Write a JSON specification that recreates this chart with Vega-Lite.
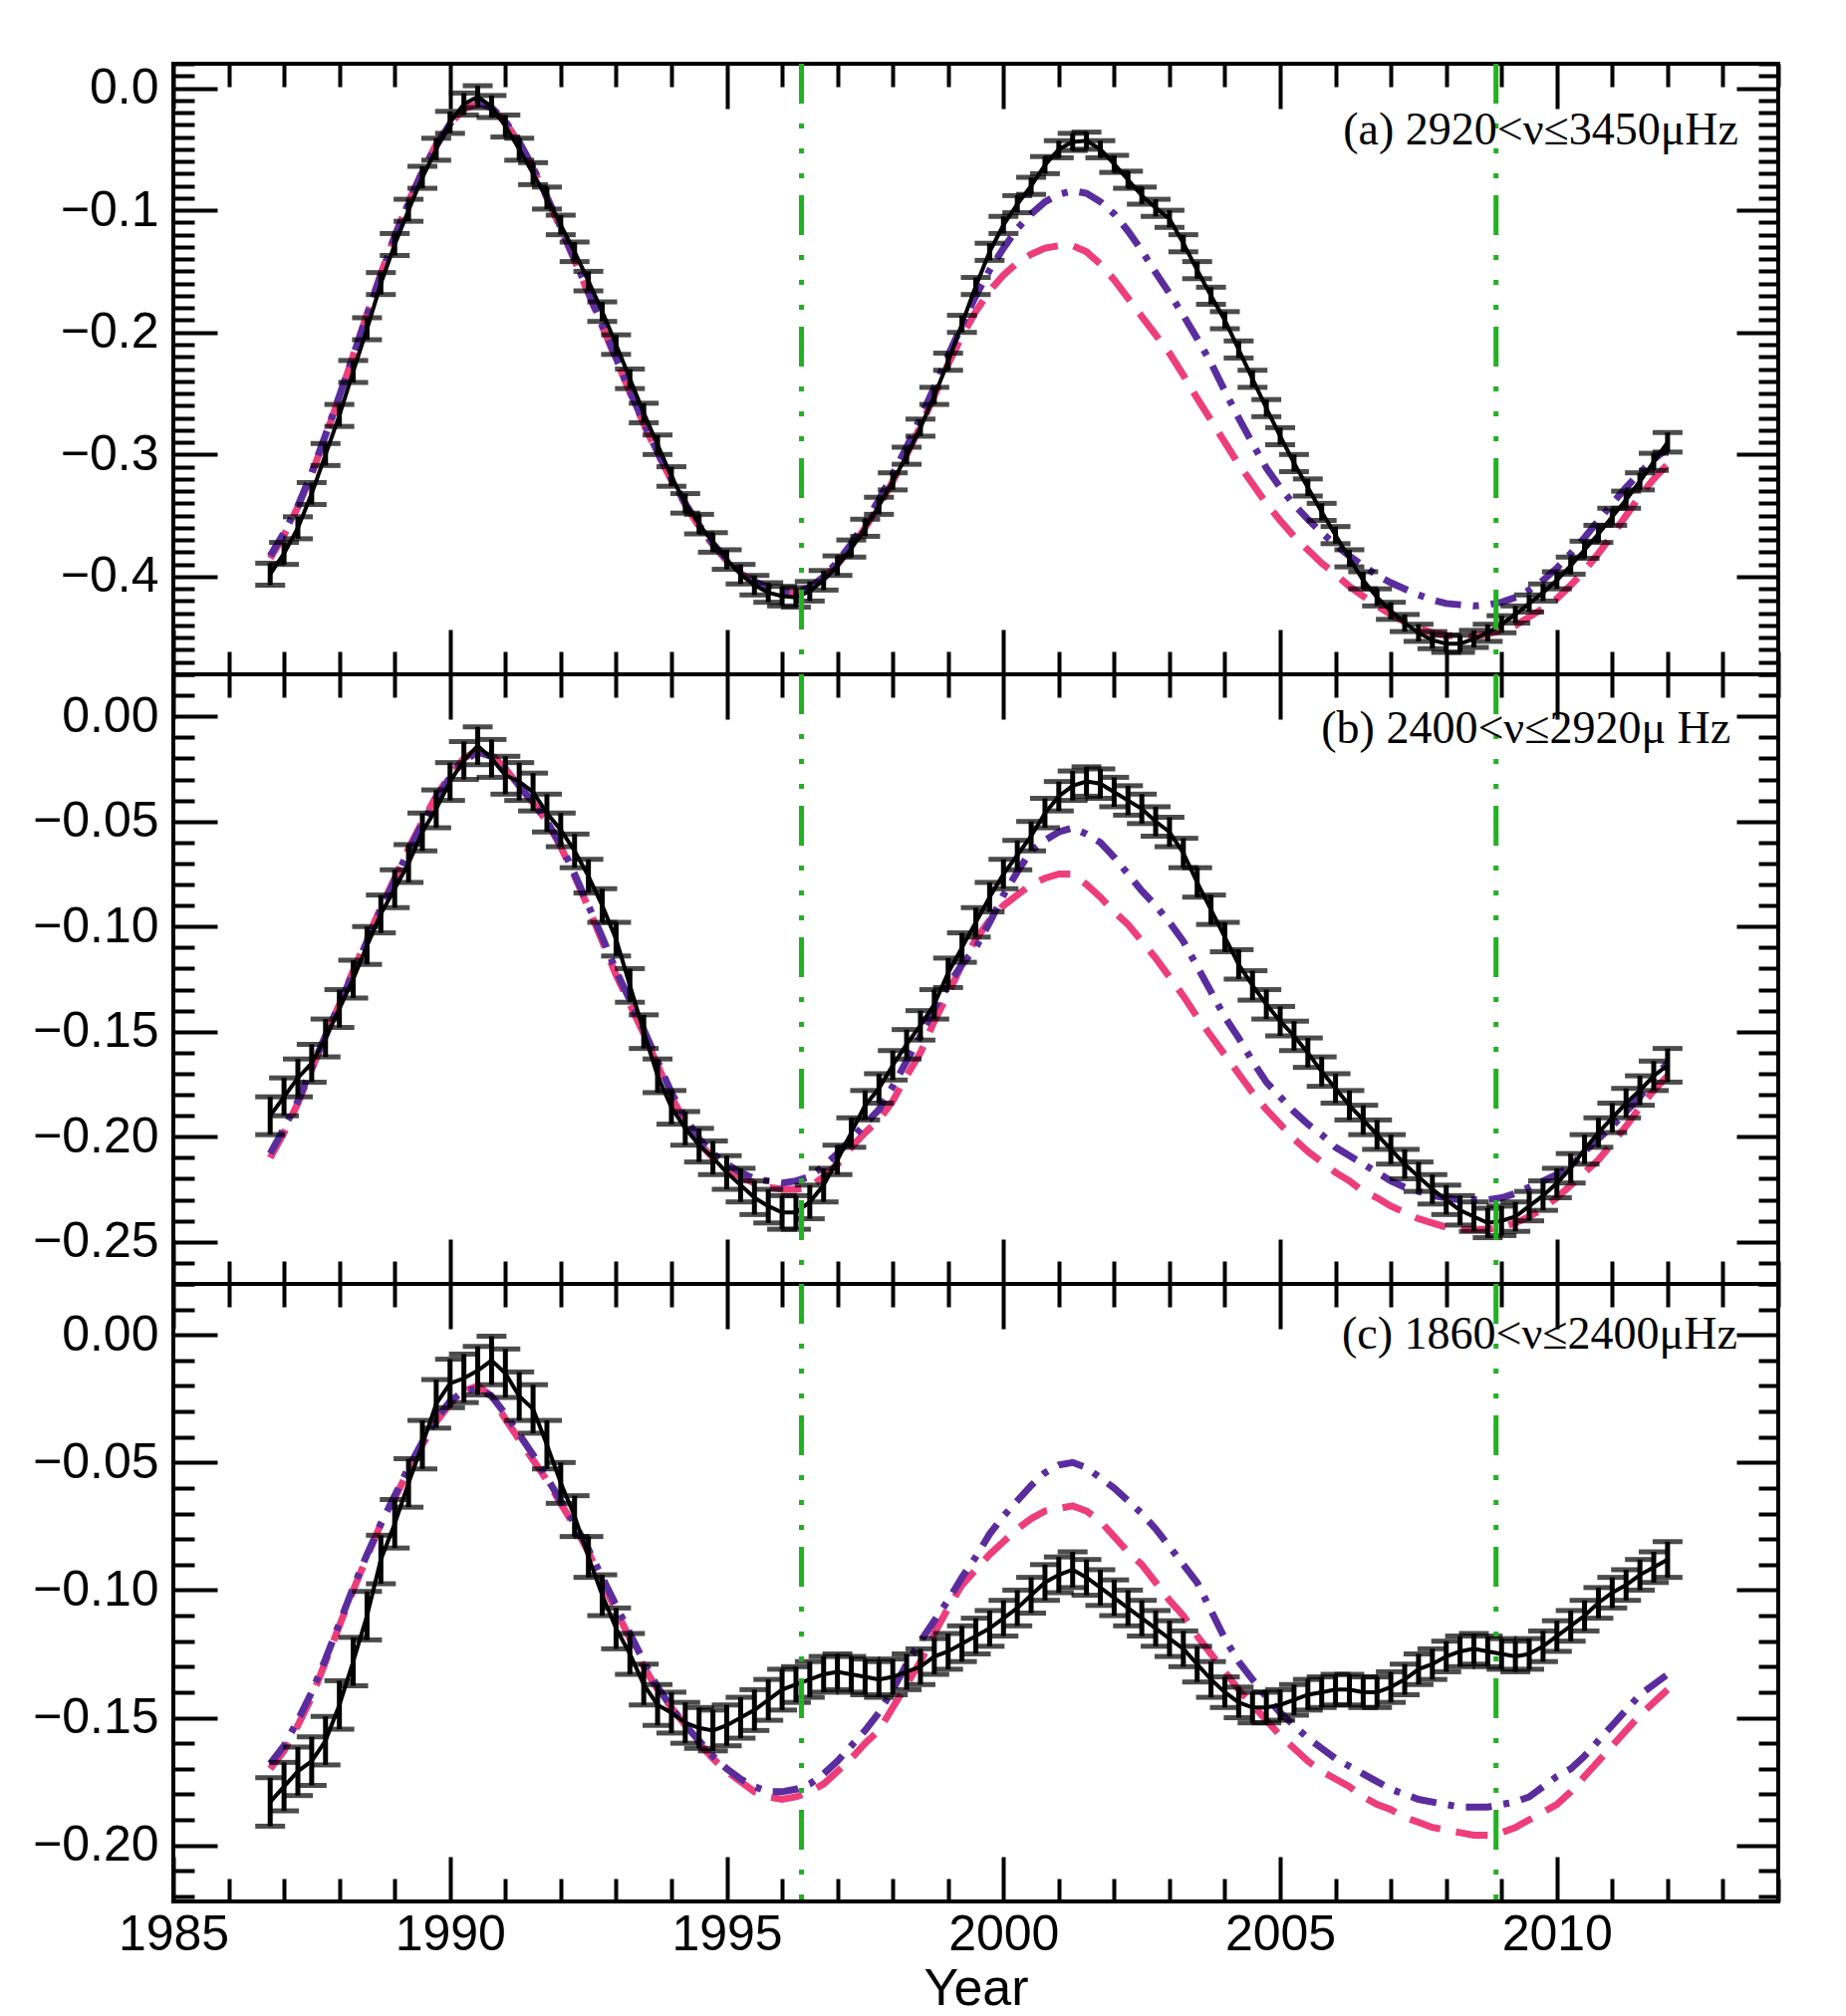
{
  "$schema": "https://vega.github.io/schema/vega-lite/v6.json",
  "background": "white",
  "padding": {"left": 4, "top": 59, "right": 30, "bottom": 0},
  "spacing": 0,
  "bounds": "flush",
  "datasets": {
    "d": [
      {"p":"a","t":1986.75,"v":-0.398,"e":0.009,"m1":-0.385,"m2":-0.383},
      {"p":"a","t":1987,"v":-0.381,"e":0.009,"m1":-0.366,"m2":-0.364},
      {"p":"a","t":1987.25,"v":-0.36,"e":0.009,"m1":-0.343,"m2":-0.342},
      {"p":"a","t":1987.5,"v":-0.332,"e":0.009,"m1":-0.316,"m2":-0.315},
      {"p":"a","t":1987.75,"v":-0.3,"e":0.009,"m1":-0.285,"m2":-0.284},
      {"p":"a","t":1988,"v":-0.268,"e":0.009,"m1":-0.253,"m2":-0.252},
      {"p":"a","t":1988.25,"v":-0.232,"e":0.009,"m1":-0.219,"m2":-0.219},
      {"p":"a","t":1988.5,"v":-0.197,"e":0.009,"m1":-0.185,"m2":-0.186},
      {"p":"a","t":1988.75,"v":-0.16,"e":0.009,"m1":-0.152,"m2":-0.153},
      {"p":"a","t":1989,"v":-0.128,"e":0.009,"m1":-0.121,"m2":-0.122},
      {"p":"a","t":1989.25,"v":-0.1,"e":0.009,"m1":-0.093,"m2":-0.094},
      {"p":"a","t":1989.5,"v":-0.073,"e":0.009,"m1":-0.068,"m2":-0.069},
      {"p":"a","t":1989.75,"v":-0.05,"e":0.009,"m1":-0.046,"m2":-0.047},
      {"p":"a","t":1990,"v":-0.028,"e":0.009,"m1":-0.029,"m2":-0.029},
      {"p":"a","t":1990.25,"v":-0.013,"e":0.009,"m1":-0.017,"m2":-0.017},
      {"p":"a","t":1990.5,"v":-0.007,"e":0.009,"m1":-0.013,"m2":-0.012},
      {"p":"a","t":1990.75,"v":-0.015,"e":0.009,"m1":-0.017,"m2":-0.016},
      {"p":"a","t":1991,"v":-0.031,"e":0.009,"m1":-0.028,"m2":-0.027},
      {"p":"a","t":1991.25,"v":-0.05,"e":0.009,"m1":-0.045,"m2":-0.044},
      {"p":"a","t":1991.5,"v":-0.07,"e":0.009,"m1":-0.066,"m2":-0.065},
      {"p":"a","t":1991.75,"v":-0.09,"e":0.009,"m1":-0.09,"m2":-0.089},
      {"p":"a","t":1992,"v":-0.112,"e":0.008,"m1":-0.115,"m2":-0.114},
      {"p":"a","t":1992.25,"v":-0.134,"e":0.008,"m1":-0.141,"m2":-0.14},
      {"p":"a","t":1992.5,"v":-0.158,"e":0.008,"m1":-0.168,"m2":-0.167},
      {"p":"a","t":1992.75,"v":-0.183,"e":0.008,"m1":-0.195,"m2":-0.194},
      {"p":"a","t":1993,"v":-0.21,"e":0.008,"m1":-0.222,"m2":-0.221},
      {"p":"a","t":1993.25,"v":-0.238,"e":0.008,"m1":-0.249,"m2":-0.248},
      {"p":"a","t":1993.5,"v":-0.266,"e":0.008,"m1":-0.275,"m2":-0.274},
      {"p":"a","t":1993.75,"v":-0.292,"e":0.008,"m1":-0.299,"m2":-0.298},
      {"p":"a","t":1994,"v":-0.318,"e":0.008,"m1":-0.321,"m2":-0.32},
      {"p":"a","t":1994.25,"v":-0.34,"e":0.008,"m1":-0.341,"m2":-0.34},
      {"p":"a","t":1994.5,"v":-0.357,"e":0.008,"m1":-0.359,"m2":-0.358},
      {"p":"a","t":1994.75,"v":-0.372,"e":0.008,"m1":-0.374,"m2":-0.373},
      {"p":"a","t":1995,"v":-0.386,"e":0.008,"m1":-0.387,"m2":-0.386},
      {"p":"a","t":1995.25,"v":-0.398,"e":0.008,"m1":-0.397,"m2":-0.396},
      {"p":"a","t":1995.5,"v":-0.407,"e":0.008,"m1":-0.405,"m2":-0.404},
      {"p":"a","t":1995.75,"v":-0.413,"e":0.008,"m1":-0.41,"m2":-0.409},
      {"p":"a","t":1996,"v":-0.416,"e":0.008,"m1":-0.413,"m2":-0.412},
      {"p":"a","t":1996.25,"v":-0.417,"e":0.008,"m1":-0.414,"m2":-0.412},
      {"p":"a","t":1996.5,"v":-0.412,"e":0.008,"m1":-0.41,"m2":-0.409},
      {"p":"a","t":1996.75,"v":-0.403,"e":0.008,"m1":-0.401,"m2":-0.4},
      {"p":"a","t":1997,"v":-0.391,"e":0.008,"m1":-0.39,"m2":-0.388},
      {"p":"a","t":1997.25,"v":-0.377,"e":0.007,"m1":-0.376,"m2":-0.373},
      {"p":"a","t":1997.5,"v":-0.36,"e":0.007,"m1":-0.36,"m2":-0.356},
      {"p":"a","t":1997.75,"v":-0.342,"e":0.007,"m1":-0.342,"m2":-0.337},
      {"p":"a","t":1998,"v":-0.322,"e":0.007,"m1":-0.322,"m2":-0.316},
      {"p":"a","t":1998.25,"v":-0.301,"e":0.007,"m1":-0.3,"m2":-0.294},
      {"p":"a","t":1998.5,"v":-0.278,"e":0.007,"m1":-0.277,"m2":-0.27},
      {"p":"a","t":1998.75,"v":-0.252,"e":0.007,"m1":-0.252,"m2":-0.245},
      {"p":"a","t":1999,"v":-0.224,"e":0.007,"m1":-0.226,"m2":-0.219},
      {"p":"a","t":1999.25,"v":-0.193,"e":0.007,"m1":-0.203,"m2":-0.194},
      {"p":"a","t":1999.5,"v":-0.162,"e":0.007,"m1":-0.183,"m2":-0.17},
      {"p":"a","t":1999.75,"v":-0.134,"e":0.007,"m1":-0.166,"m2":-0.149},
      {"p":"a","t":2000,"v":-0.112,"e":0.007,"m1":-0.153,"m2":-0.131},
      {"p":"a","t":2000.25,"v":-0.095,"e":0.007,"m1":-0.143,"m2":-0.115},
      {"p":"a","t":2000.5,"v":-0.08,"e":0.007,"m1":-0.136,"m2":-0.103},
      {"p":"a","t":2000.75,"v":-0.063,"e":0.007,"m1":-0.131,"m2":-0.093},
      {"p":"a","t":2001,"v":-0.05,"e":0.007,"m1":-0.129,"m2":-0.087},
      {"p":"a","t":2001.25,"v":-0.044,"e":0.007,"m1":-0.129,"m2":-0.084},
      {"p":"a","t":2001.5,"v":-0.043,"e":0.007,"m1":-0.134,"m2":-0.086},
      {"p":"a","t":2001.75,"v":-0.05,"e":0.007,"m1":-0.144,"m2":-0.093},
      {"p":"a","t":2002,"v":-0.062,"e":0.007,"m1":-0.157,"m2":-0.103},
      {"p":"a","t":2002.25,"v":-0.075,"e":0.007,"m1":-0.172,"m2":-0.117},
      {"p":"a","t":2002.5,"v":-0.088,"e":0.007,"m1":-0.187,"m2":-0.133},
      {"p":"a","t":2002.75,"v":-0.098,"e":0.007,"m1":-0.202,"m2":-0.151},
      {"p":"a","t":2003,"v":-0.107,"e":0.007,"m1":-0.217,"m2":-0.168},
      {"p":"a","t":2003.25,"v":-0.127,"e":0.007,"m1":-0.235,"m2":-0.186},
      {"p":"a","t":2003.5,"v":-0.149,"e":0.007,"m1":-0.254,"m2":-0.205},
      {"p":"a","t":2003.75,"v":-0.17,"e":0.007,"m1":-0.272,"m2":-0.225},
      {"p":"a","t":2004,"v":-0.19,"e":0.007,"m1":-0.29,"m2":-0.248},
      {"p":"a","t":2004.25,"v":-0.214,"e":0.007,"m1":-0.308,"m2":-0.27},
      {"p":"a","t":2004.5,"v":-0.238,"e":0.007,"m1":-0.324,"m2":-0.291},
      {"p":"a","t":2004.75,"v":-0.262,"e":0.007,"m1":-0.34,"m2":-0.311},
      {"p":"a","t":2005,"v":-0.285,"e":0.007,"m1":-0.354,"m2":-0.327},
      {"p":"a","t":2005.25,"v":-0.307,"e":0.007,"m1":-0.367,"m2":-0.341},
      {"p":"a","t":2005.5,"v":-0.327,"e":0.007,"m1":-0.378,"m2":-0.353},
      {"p":"a","t":2005.75,"v":-0.347,"e":0.007,"m1":-0.389,"m2":-0.364},
      {"p":"a","t":2006,"v":-0.366,"e":0.007,"m1":-0.398,"m2":-0.374},
      {"p":"a","t":2006.25,"v":-0.385,"e":0.007,"m1":-0.408,"m2":-0.383},
      {"p":"a","t":2006.5,"v":-0.403,"e":0.007,"m1":-0.416,"m2":-0.391},
      {"p":"a","t":2006.75,"v":-0.417,"e":0.007,"m1":-0.424,"m2":-0.399},
      {"p":"a","t":2007,"v":-0.428,"e":0.007,"m1":-0.431,"m2":-0.405},
      {"p":"a","t":2007.25,"v":-0.438,"e":0.007,"m1":-0.437,"m2":-0.41},
      {"p":"a","t":2007.5,"v":-0.446,"e":0.007,"m1":-0.442,"m2":-0.415},
      {"p":"a","t":2007.75,"v":-0.452,"e":0.007,"m1":-0.446,"m2":-0.419},
      {"p":"a","t":2008,"v":-0.455,"e":0.007,"m1":-0.448,"m2":-0.422},
      {"p":"a","t":2008.25,"v":-0.455,"e":0.007,"m1":-0.449,"m2":-0.423},
      {"p":"a","t":2008.5,"v":-0.451,"e":0.007,"m1":-0.449,"m2":-0.424},
      {"p":"a","t":2008.75,"v":-0.446,"e":0.007,"m1":-0.447,"m2":-0.423},
      {"p":"a","t":2009,"v":-0.439,"e":0.007,"m1":-0.444,"m2":-0.421},
      {"p":"a","t":2009.25,"v":-0.431,"e":0.007,"m1":-0.44,"m2":-0.417},
      {"p":"a","t":2009.5,"v":-0.422,"e":0.007,"m1":-0.433,"m2":-0.411},
      {"p":"a","t":2009.75,"v":-0.413,"e":0.007,"m1":-0.426,"m2":-0.403},
      {"p":"a","t":2010,"v":-0.403,"e":0.007,"m1":-0.418,"m2":-0.393},
      {"p":"a","t":2010.25,"v":-0.391,"e":0.007,"m1":-0.407,"m2":-0.381},
      {"p":"a","t":2010.5,"v":-0.378,"e":0.007,"m1":-0.395,"m2":-0.368},
      {"p":"a","t":2010.75,"v":-0.365,"e":0.007,"m1":-0.381,"m2":-0.354},
      {"p":"a","t":2011,"v":-0.351,"e":0.007,"m1":-0.366,"m2":-0.34},
      {"p":"a","t":2011.25,"v":-0.337,"e":0.007,"m1":-0.35,"m2":-0.327},
      {"p":"a","t":2011.5,"v":-0.322,"e":0.007,"m1":-0.334,"m2":-0.315},
      {"p":"a","t":2011.75,"v":-0.306,"e":0.007,"m1":-0.32,"m2":-0.304},
      {"p":"a","t":2012,"v":-0.29,"e":0.008,"m1":-0.308,"m2":-0.295},

      {"p":"b","t":1986.75,"v":-0.19,"e":0.009,"m1":-0.21,"m2":-0.208},
      {"p":"b","t":1987,"v":-0.181,"e":0.009,"m1":-0.198,"m2":-0.196},
      {"p":"b","t":1987.25,"v":-0.172,"e":0.009,"m1":-0.184,"m2":-0.183},
      {"p":"b","t":1987.5,"v":-0.165,"e":0.009,"m1":-0.168,"m2":-0.167},
      {"p":"b","t":1987.75,"v":-0.153,"e":0.009,"m1":-0.152,"m2":-0.152},
      {"p":"b","t":1988,"v":-0.139,"e":0.009,"m1":-0.137,"m2":-0.137},
      {"p":"b","t":1988.25,"v":-0.125,"e":0.009,"m1":-0.121,"m2":-0.122},
      {"p":"b","t":1988.5,"v":-0.109,"e":0.009,"m1":-0.106,"m2":-0.107},
      {"p":"b","t":1988.75,"v":-0.094,"e":0.009,"m1":-0.091,"m2":-0.092},
      {"p":"b","t":1989,"v":-0.082,"e":0.009,"m1":-0.077,"m2":-0.078},
      {"p":"b","t":1989.25,"v":-0.07,"e":0.009,"m1":-0.063,"m2":-0.064},
      {"p":"b","t":1989.5,"v":-0.055,"e":0.009,"m1":-0.05,"m2":-0.051},
      {"p":"b","t":1989.75,"v":-0.044,"e":0.009,"m1":-0.038,"m2":-0.039},
      {"p":"b","t":1990,"v":-0.031,"e":0.009,"m1":-0.028,"m2":-0.029},
      {"p":"b","t":1990.25,"v":-0.021,"e":0.009,"m1":-0.02,"m2":-0.021},
      {"p":"b","t":1990.5,"v":-0.014,"e":0.009,"m1":-0.016,"m2":-0.017},
      {"p":"b","t":1990.75,"v":-0.02,"e":0.009,"m1":-0.018,"m2":-0.019},
      {"p":"b","t":1991,"v":-0.028,"e":0.009,"m1":-0.025,"m2":-0.025},
      {"p":"b","t":1991.25,"v":-0.031,"e":0.009,"m1":-0.033,"m2":-0.033},
      {"p":"b","t":1991.5,"v":-0.036,"e":0.009,"m1":-0.041,"m2":-0.041},
      {"p":"b","t":1991.75,"v":-0.046,"e":0.009,"m1":-0.05,"m2":-0.05},
      {"p":"b","t":1992,"v":-0.054,"e":0.008,"m1":-0.062,"m2":-0.061},
      {"p":"b","t":1992.25,"v":-0.064,"e":0.008,"m1":-0.076,"m2":-0.075},
      {"p":"b","t":1992.5,"v":-0.076,"e":0.008,"m1":-0.091,"m2":-0.09},
      {"p":"b","t":1992.75,"v":-0.09,"e":0.008,"m1":-0.107,"m2":-0.105},
      {"p":"b","t":1993,"v":-0.106,"e":0.008,"m1":-0.123,"m2":-0.121},
      {"p":"b","t":1993.25,"v":-0.128,"e":0.008,"m1":-0.137,"m2":-0.135},
      {"p":"b","t":1993.5,"v":-0.15,"e":0.008,"m1":-0.151,"m2":-0.149},
      {"p":"b","t":1993.75,"v":-0.171,"e":0.008,"m1":-0.166,"m2":-0.164},
      {"p":"b","t":1994,"v":-0.186,"e":0.008,"m1":-0.181,"m2":-0.179},
      {"p":"b","t":1994.25,"v":-0.196,"e":0.008,"m1":-0.193,"m2":-0.191},
      {"p":"b","t":1994.5,"v":-0.204,"e":0.008,"m1":-0.203,"m2":-0.201},
      {"p":"b","t":1994.75,"v":-0.21,"e":0.008,"m1":-0.21,"m2":-0.208},
      {"p":"b","t":1995,"v":-0.217,"e":0.008,"m1":-0.215,"m2":-0.213},
      {"p":"b","t":1995.25,"v":-0.223,"e":0.008,"m1":-0.219,"m2":-0.217},
      {"p":"b","t":1995.5,"v":-0.229,"e":0.008,"m1":-0.222,"m2":-0.22},
      {"p":"b","t":1995.75,"v":-0.233,"e":0.008,"m1":-0.224,"m2":-0.221},
      {"p":"b","t":1996,"v":-0.236,"e":0.008,"m1":-0.225,"m2":-0.222},
      {"p":"b","t":1996.25,"v":-0.236,"e":0.008,"m1":-0.225,"m2":-0.221},
      {"p":"b","t":1996.5,"v":-0.231,"e":0.008,"m1":-0.224,"m2":-0.219},
      {"p":"b","t":1996.75,"v":-0.223,"e":0.008,"m1":-0.219,"m2":-0.214},
      {"p":"b","t":1997,"v":-0.211,"e":0.007,"m1":-0.213,"m2":-0.208},
      {"p":"b","t":1997.25,"v":-0.198,"e":0.007,"m1":-0.205,"m2":-0.201},
      {"p":"b","t":1997.5,"v":-0.185,"e":0.007,"m1":-0.198,"m2":-0.194},
      {"p":"b","t":1997.75,"v":-0.177,"e":0.007,"m1":-0.192,"m2":-0.187},
      {"p":"b","t":1998,"v":-0.166,"e":0.007,"m1":-0.183,"m2":-0.176},
      {"p":"b","t":1998.25,"v":-0.156,"e":0.007,"m1":-0.171,"m2":-0.164},
      {"p":"b","t":1998.5,"v":-0.147,"e":0.007,"m1":-0.16,"m2":-0.152},
      {"p":"b","t":1998.75,"v":-0.137,"e":0.007,"m1":-0.145,"m2":-0.139},
      {"p":"b","t":1999,"v":-0.122,"e":0.007,"m1":-0.132,"m2":-0.128},
      {"p":"b","t":1999.25,"v":-0.11,"e":0.007,"m1":-0.118,"m2":-0.118},
      {"p":"b","t":1999.5,"v":-0.098,"e":0.007,"m1":-0.106,"m2":-0.11},
      {"p":"b","t":1999.75,"v":-0.086,"e":0.007,"m1":-0.097,"m2":-0.098},
      {"p":"b","t":2000,"v":-0.075,"e":0.007,"m1":-0.09,"m2":-0.085},
      {"p":"b","t":2000.25,"v":-0.066,"e":0.007,"m1":-0.085,"m2":-0.074},
      {"p":"b","t":2000.5,"v":-0.057,"e":0.007,"m1":-0.08,"m2":-0.064},
      {"p":"b","t":2000.75,"v":-0.046,"e":0.007,"m1":-0.077,"m2":-0.059},
      {"p":"b","t":2001,"v":-0.038,"e":0.007,"m1":-0.075,"m2":-0.055},
      {"p":"b","t":2001.25,"v":-0.033,"e":0.007,"m1":-0.075,"m2":-0.053},
      {"p":"b","t":2001.5,"v":-0.031,"e":0.007,"m1":-0.08,"m2":-0.056},
      {"p":"b","t":2001.75,"v":-0.032,"e":0.007,"m1":-0.086,"m2":-0.06},
      {"p":"b","t":2002,"v":-0.036,"e":0.007,"m1":-0.093,"m2":-0.067},
      {"p":"b","t":2002.25,"v":-0.04,"e":0.007,"m1":-0.099,"m2":-0.075},
      {"p":"b","t":2002.5,"v":-0.044,"e":0.007,"m1":-0.107,"m2":-0.083},
      {"p":"b","t":2002.75,"v":-0.05,"e":0.007,"m1":-0.115,"m2":-0.09},
      {"p":"b","t":2003,"v":-0.055,"e":0.007,"m1":-0.124,"m2":-0.098},
      {"p":"b","t":2003.25,"v":-0.065,"e":0.007,"m1":-0.133,"m2":-0.107},
      {"p":"b","t":2003.5,"v":-0.079,"e":0.007,"m1":-0.143,"m2":-0.119},
      {"p":"b","t":2003.75,"v":-0.092,"e":0.007,"m1":-0.152,"m2":-0.131},
      {"p":"b","t":2004,"v":-0.105,"e":0.007,"m1":-0.161,"m2":-0.143},
      {"p":"b","t":2004.25,"v":-0.118,"e":0.007,"m1":-0.17,"m2":-0.153},
      {"p":"b","t":2004.5,"v":-0.128,"e":0.007,"m1":-0.179,"m2":-0.164},
      {"p":"b","t":2004.75,"v":-0.137,"e":0.007,"m1":-0.187,"m2":-0.174},
      {"p":"b","t":2005,"v":-0.145,"e":0.007,"m1":-0.194,"m2":-0.181},
      {"p":"b","t":2005.25,"v":-0.152,"e":0.007,"m1":-0.201,"m2":-0.188},
      {"p":"b","t":2005.5,"v":-0.16,"e":0.007,"m1":-0.207,"m2":-0.194},
      {"p":"b","t":2005.75,"v":-0.169,"e":0.007,"m1":-0.212,"m2":-0.199},
      {"p":"b","t":2006,"v":-0.177,"e":0.007,"m1":-0.217,"m2":-0.205},
      {"p":"b","t":2006.25,"v":-0.185,"e":0.007,"m1":-0.221,"m2":-0.209},
      {"p":"b","t":2006.5,"v":-0.192,"e":0.007,"m1":-0.226,"m2":-0.213},
      {"p":"b","t":2006.75,"v":-0.199,"e":0.007,"m1":-0.229,"m2":-0.217},
      {"p":"b","t":2007,"v":-0.206,"e":0.007,"m1":-0.233,"m2":-0.221},
      {"p":"b","t":2007.25,"v":-0.213,"e":0.007,"m1":-0.236,"m2":-0.224},
      {"p":"b","t":2007.5,"v":-0.219,"e":0.007,"m1":-0.239,"m2":-0.226},
      {"p":"b","t":2007.75,"v":-0.225,"e":0.007,"m1":-0.241,"m2":-0.228},
      {"p":"b","t":2008,"v":-0.23,"e":0.007,"m1":-0.243,"m2":-0.229},
      {"p":"b","t":2008.25,"v":-0.235,"e":0.007,"m1":-0.244,"m2":-0.23},
      {"p":"b","t":2008.5,"v":-0.238,"e":0.007,"m1":-0.244,"m2":-0.23},
      {"p":"b","t":2008.75,"v":-0.241,"e":0.007,"m1":-0.244,"m2":-0.23},
      {"p":"b","t":2009,"v":-0.24,"e":0.007,"m1":-0.243,"m2":-0.229},
      {"p":"b","t":2009.25,"v":-0.238,"e":0.007,"m1":-0.241,"m2":-0.227},
      {"p":"b","t":2009.5,"v":-0.233,"e":0.007,"m1":-0.238,"m2":-0.224},
      {"p":"b","t":2009.75,"v":-0.228,"e":0.007,"m1":-0.234,"m2":-0.221},
      {"p":"b","t":2010,"v":-0.222,"e":0.007,"m1":-0.229,"m2":-0.218},
      {"p":"b","t":2010.25,"v":-0.215,"e":0.007,"m1":-0.223,"m2":-0.214},
      {"p":"b","t":2010.5,"v":-0.206,"e":0.007,"m1":-0.217,"m2":-0.207},
      {"p":"b","t":2010.75,"v":-0.198,"e":0.007,"m1":-0.211,"m2":-0.201},
      {"p":"b","t":2011,"v":-0.191,"e":0.007,"m1":-0.203,"m2":-0.195},
      {"p":"b","t":2011.25,"v":-0.184,"e":0.007,"m1":-0.195,"m2":-0.188},
      {"p":"b","t":2011.5,"v":-0.178,"e":0.007,"m1":-0.186,"m2":-0.181},
      {"p":"b","t":2011.75,"v":-0.171,"e":0.007,"m1":-0.178,"m2":-0.172},
      {"p":"b","t":2012,"v":-0.166,"e":0.008,"m1":-0.171,"m2":-0.165},

      {"p":"c","t":1986.75,"v":-0.183,"e":0.0095,"m1":-0.17,"m2":-0.168},
      {"p":"c","t":1987,"v":-0.177,"e":0.0095,"m1":-0.163,"m2":-0.161},
      {"p":"c","t":1987.25,"v":-0.171,"e":0.0095,"m1":-0.153,"m2":-0.151},
      {"p":"c","t":1987.5,"v":-0.167,"e":0.0095,"m1":-0.142,"m2":-0.14},
      {"p":"c","t":1987.75,"v":-0.159,"e":0.0095,"m1":-0.128,"m2":-0.127},
      {"p":"c","t":1988,"v":-0.145,"e":0.0095,"m1":-0.114,"m2":-0.113},
      {"p":"c","t":1988.25,"v":-0.128,"e":0.0095,"m1":-0.1,"m2":-0.099},
      {"p":"c","t":1988.5,"v":-0.11,"e":0.0095,"m1":-0.087,"m2":-0.086},
      {"p":"c","t":1988.75,"v":-0.088,"e":0.0095,"m1":-0.074,"m2":-0.074},
      {"p":"c","t":1989,"v":-0.074,"e":0.0095,"m1":-0.064,"m2":-0.063},
      {"p":"c","t":1989.25,"v":-0.058,"e":0.0095,"m1":-0.053,"m2":-0.052},
      {"p":"c","t":1989.5,"v":-0.043,"e":0.0095,"m1":-0.043,"m2":-0.042},
      {"p":"c","t":1989.75,"v":-0.027,"e":0.0095,"m1":-0.034,"m2":-0.033},
      {"p":"c","t":1990,"v":-0.019,"e":0.0095,"m1":-0.027,"m2":-0.026},
      {"p":"c","t":1990.25,"v":-0.017,"e":0.0095,"m1":-0.022,"m2":-0.022},
      {"p":"c","t":1990.5,"v":-0.014,"e":0.0095,"m1":-0.02,"m2":-0.021},
      {"p":"c","t":1990.75,"v":-0.01,"e":0.0095,"m1":-0.024,"m2":-0.024},
      {"p":"c","t":1991,"v":-0.015,"e":0.0095,"m1":-0.033,"m2":-0.031},
      {"p":"c","t":1991.25,"v":-0.024,"e":0.0095,"m1":-0.041,"m2":-0.039},
      {"p":"c","t":1991.5,"v":-0.029,"e":0.0095,"m1":-0.049,"m2":-0.047},
      {"p":"c","t":1991.75,"v":-0.043,"e":0.0095,"m1":-0.057,"m2":-0.056},
      {"p":"c","t":1992,"v":-0.058,"e":0.008,"m1":-0.066,"m2":-0.065},
      {"p":"c","t":1992.25,"v":-0.071,"e":0.008,"m1":-0.075,"m2":-0.074},
      {"p":"c","t":1992.5,"v":-0.087,"e":0.008,"m1":-0.085,"m2":-0.084},
      {"p":"c","t":1992.75,"v":-0.102,"e":0.008,"m1":-0.097,"m2":-0.095},
      {"p":"c","t":1993,"v":-0.115,"e":0.008,"m1":-0.108,"m2":-0.106},
      {"p":"c","t":1993.25,"v":-0.125,"e":0.008,"m1":-0.119,"m2":-0.117},
      {"p":"c","t":1993.5,"v":-0.137,"e":0.008,"m1":-0.13,"m2":-0.128},
      {"p":"c","t":1993.75,"v":-0.145,"e":0.008,"m1":-0.139,"m2":-0.138},
      {"p":"c","t":1994,"v":-0.148,"e":0.008,"m1":-0.146,"m2":-0.146},
      {"p":"c","t":1994.25,"v":-0.152,"e":0.008,"m1":-0.153,"m2":-0.153},
      {"p":"c","t":1994.5,"v":-0.154,"e":0.008,"m1":-0.16,"m2":-0.159},
      {"p":"c","t":1994.75,"v":-0.155,"e":0.008,"m1":-0.166,"m2":-0.165},
      {"p":"c","t":1995,"v":-0.153,"e":0.008,"m1":-0.171,"m2":-0.17},
      {"p":"c","t":1995.25,"v":-0.15,"e":0.008,"m1":-0.175,"m2":-0.174},
      {"p":"c","t":1995.5,"v":-0.147,"e":0.008,"m1":-0.179,"m2":-0.177},
      {"p":"c","t":1995.75,"v":-0.143,"e":0.008,"m1":-0.181,"m2":-0.179},
      {"p":"c","t":1996,"v":-0.139,"e":0.008,"m1":-0.182,"m2":-0.179},
      {"p":"c","t":1996.25,"v":-0.137,"e":0.007,"m1":-0.181,"m2":-0.178},
      {"p":"c","t":1996.5,"v":-0.135,"e":0.007,"m1":-0.179,"m2":-0.176},
      {"p":"c","t":1996.75,"v":-0.133,"e":0.007,"m1":-0.176,"m2":-0.172},
      {"p":"c","t":1997,"v":-0.132,"e":0.007,"m1":-0.171,"m2":-0.167},
      {"p":"c","t":1997.25,"v":-0.133,"e":0.007,"m1":-0.166,"m2":-0.161},
      {"p":"c","t":1997.5,"v":-0.134,"e":0.007,"m1":-0.16,"m2":-0.155},
      {"p":"c","t":1997.75,"v":-0.135,"e":0.007,"m1":-0.155,"m2":-0.148},
      {"p":"c","t":1998,"v":-0.134,"e":0.007,"m1":-0.146,"m2":-0.139},
      {"p":"c","t":1998.25,"v":-0.132,"e":0.007,"m1":-0.137,"m2":-0.129},
      {"p":"c","t":1998.5,"v":-0.13,"e":0.007,"m1":-0.128,"m2":-0.12},
      {"p":"c","t":1998.75,"v":-0.126,"e":0.007,"m1":-0.117,"m2":-0.112},
      {"p":"c","t":1999,"v":-0.124,"e":0.007,"m1":-0.107,"m2":-0.104},
      {"p":"c","t":1999.25,"v":-0.121,"e":0.007,"m1":-0.098,"m2":-0.095},
      {"p":"c","t":1999.5,"v":-0.118,"e":0.007,"m1":-0.092,"m2":-0.087},
      {"p":"c","t":1999.75,"v":-0.115,"e":0.007,"m1":-0.086,"m2":-0.078},
      {"p":"c","t":2000,"v":-0.111,"e":0.007,"m1":-0.081,"m2":-0.071},
      {"p":"c","t":2000.25,"v":-0.107,"e":0.007,"m1":-0.076,"m2":-0.065},
      {"p":"c","t":2000.5,"v":-0.102,"e":0.007,"m1":-0.072,"m2":-0.059},
      {"p":"c","t":2000.75,"v":-0.097,"e":0.007,"m1":-0.069,"m2":-0.054},
      {"p":"c","t":2001,"v":-0.094,"e":0.007,"m1":-0.068,"m2":-0.051},
      {"p":"c","t":2001.25,"v":-0.092,"e":0.007,"m1":-0.067,"m2":-0.05},
      {"p":"c","t":2001.5,"v":-0.095,"e":0.007,"m1":-0.069,"m2":-0.052},
      {"p":"c","t":2001.75,"v":-0.099,"e":0.007,"m1":-0.073,"m2":-0.056},
      {"p":"c","t":2002,"v":-0.103,"e":0.007,"m1":-0.079,"m2":-0.06},
      {"p":"c","t":2002.25,"v":-0.107,"e":0.007,"m1":-0.085,"m2":-0.065},
      {"p":"c","t":2002.5,"v":-0.111,"e":0.007,"m1":-0.09,"m2":-0.07},
      {"p":"c","t":2002.75,"v":-0.115,"e":0.007,"m1":-0.097,"m2":-0.076},
      {"p":"c","t":2003,"v":-0.119,"e":0.007,"m1":-0.104,"m2":-0.083},
      {"p":"c","t":2003.25,"v":-0.123,"e":0.007,"m1":-0.11,"m2":-0.09},
      {"p":"c","t":2003.5,"v":-0.129,"e":0.007,"m1":-0.118,"m2":-0.097},
      {"p":"c","t":2003.75,"v":-0.135,"e":0.007,"m1":-0.125,"m2":-0.108},
      {"p":"c","t":2004,"v":-0.14,"e":0.006,"m1":-0.132,"m2":-0.119},
      {"p":"c","t":2004.25,"v":-0.144,"e":0.006,"m1":-0.139,"m2":-0.128},
      {"p":"c","t":2004.5,"v":-0.146,"e":0.006,"m1":-0.145,"m2":-0.135},
      {"p":"c","t":2004.75,"v":-0.146,"e":0.006,"m1":-0.151,"m2":-0.142},
      {"p":"c","t":2005,"v":-0.145,"e":0.006,"m1":-0.157,"m2":-0.148},
      {"p":"c","t":2005.25,"v":-0.143,"e":0.006,"m1":-0.162,"m2":-0.153},
      {"p":"c","t":2005.5,"v":-0.141,"e":0.006,"m1":-0.167,"m2":-0.158},
      {"p":"c","t":2005.75,"v":-0.14,"e":0.006,"m1":-0.171,"m2":-0.162},
      {"p":"c","t":2006,"v":-0.139,"e":0.006,"m1":-0.174,"m2":-0.166},
      {"p":"c","t":2006.25,"v":-0.139,"e":0.006,"m1":-0.177,"m2":-0.169},
      {"p":"c","t":2006.5,"v":-0.14,"e":0.006,"m1":-0.181,"m2":-0.172},
      {"p":"c","t":2006.75,"v":-0.14,"e":0.006,"m1":-0.184,"m2":-0.175},
      {"p":"c","t":2007,"v":-0.138,"e":0.006,"m1":-0.186,"m2":-0.178},
      {"p":"c","t":2007.25,"v":-0.135,"e":0.006,"m1":-0.189,"m2":-0.18},
      {"p":"c","t":2007.5,"v":-0.131,"e":0.006,"m1":-0.191,"m2":-0.182},
      {"p":"c","t":2007.75,"v":-0.129,"e":0.006,"m1":-0.193,"m2":-0.183},
      {"p":"c","t":2008,"v":-0.126,"e":0.006,"m1":-0.194,"m2":-0.184},
      {"p":"c","t":2008.25,"v":-0.124,"e":0.006,"m1":-0.195,"m2":-0.185},
      {"p":"c","t":2008.5,"v":-0.123,"e":0.006,"m1":-0.196,"m2":-0.185},
      {"p":"c","t":2008.75,"v":-0.124,"e":0.006,"m1":-0.196,"m2":-0.185},
      {"p":"c","t":2009,"v":-0.125,"e":0.006,"m1":-0.195,"m2":-0.184},
      {"p":"c","t":2009.25,"v":-0.126,"e":0.006,"m1":-0.193,"m2":-0.183},
      {"p":"c","t":2009.5,"v":-0.125,"e":0.006,"m1":-0.19,"m2":-0.181},
      {"p":"c","t":2009.75,"v":-0.122,"e":0.006,"m1":-0.187,"m2":-0.177},
      {"p":"c","t":2010,"v":-0.118,"e":0.006,"m1":-0.184,"m2":-0.173},
      {"p":"c","t":2010.25,"v":-0.114,"e":0.006,"m1":-0.179,"m2":-0.17},
      {"p":"c","t":2010.5,"v":-0.11,"e":0.006,"m1":-0.173,"m2":-0.165},
      {"p":"c","t":2010.75,"v":-0.105,"e":0.006,"m1":-0.167,"m2":-0.159},
      {"p":"c","t":2011,"v":-0.101,"e":0.006,"m1":-0.161,"m2":-0.153},
      {"p":"c","t":2011.25,"v":-0.098,"e":0.006,"m1":-0.155,"m2":-0.147},
      {"p":"c","t":2011.5,"v":-0.094,"e":0.006,"m1":-0.149,"m2":-0.141},
      {"p":"c","t":2011.75,"v":-0.091,"e":0.006,"m1":-0.144,"m2":-0.137},
      {"p":"c","t":2012,"v":-0.088,"e":0.007,"m1":-0.139,"m2":-0.133}
    ]
  },
  "vconcat": [
    {
      "width": 1611,
      "height": 613,
      "data": {"name": "d"},
      "layer": [
        {
          "transform": [{"filter": "datum.p === 'a'"}],
          "mark": {"type": "line", "color": "#ee3d7b", "strokeWidth": 7, "strokeDash": [32, 16]},
          "encoding": {
            "x": {"field": "t", "type": "quantitative", "scale": {"domain": [1985, 2014], "nice": false, "zero": false},
              "axis": {"orient": "top", "values": [1985,1986,1987,1988,1989,1990,1991,1992,1993,1994,1995,1996,1997,1998,1999,2000,2001,2002,2003,2004,2005,2006,2007,2008,2009,2010,2011,2012,2013,2014], "labels": false, "domain": false, "grid": false, "title": null, "tickColor": "black", "tickWidth": 4, "tickSize": {"condition": {"test": "datum.value % 5 === 0", "value": -45}, "value": -23}}},
            "y": {"field": "m1", "type": "quantitative", "scale": {"domain": [-0.48, 0.02], "nice": false, "zero": false},
              "axis": {"orient": "right", "values": [-0.48,-0.47,-0.46,-0.45,-0.44,-0.43,-0.42,-0.41,-0.4,-0.39,-0.38,-0.37,-0.36,-0.35,-0.34,-0.33,-0.32,-0.31,-0.3,-0.29,-0.28,-0.27,-0.26,-0.25,-0.24,-0.23,-0.22,-0.21,-0.2,-0.19,-0.18,-0.17,-0.16,-0.15,-0.14,-0.13,-0.12,-0.11,-0.1,-0.09,-0.08,-0.07,-0.06,-0.05,-0.04,-0.03,-0.02,-0.01,0,0.01,0.02], "labels": false, "domain": false, "grid": false, "title": null, "tickColor": "black", "tickWidth": 4, "tickSize": {"condition": {"test": "abs(round(datum.value*100)) % 10 === 0", "value": -42}, "value": -20}}}
          }
        },
        {
          "transform": [{"filter": "datum.p === 'a'"}],
          "mark": {"type": "line", "color": "#5a2d9e", "strokeWidth": 7, "strokeDash": [26, 12, 6, 12]},
          "encoding": {
            "x": {"field": "t", "type": "quantitative", "scale": {"domain": [1985, 2014], "nice": false, "zero": false}, "axis": null},
            "y": {"field": "m2", "type": "quantitative", "scale": {"domain": [-0.48, 0.02], "nice": false, "zero": false}, "axis": null}
          }
        },
        {
          "transform": [{"filter": "datum.p === 'a'"}],
          "mark": {"type": "errorbar", "color": "black", "ticks": {"size": 30, "thickness": 5}, "rule": {"strokeWidth": 5}},
          "encoding": {
            "x": {"field": "t", "type": "quantitative", "scale": {"domain": [1985, 2014], "nice": false, "zero": false},
              "axis": {"orient": "bottom", "values": [1985,1986,1987,1988,1989,1990,1991,1992,1993,1994,1995,1996,1997,1998,1999,2000,2001,2002,2003,2004,2005,2006,2007,2008,2009,2010,2011,2012,2013,2014], "labels": false, "domain": false, "grid": false, "title": null, "tickColor": "black", "tickWidth": 4, "tickSize": {"condition": {"test": "datum.value % 5 === 0", "value": -45}, "value": -23}}},
            "y": {"field": "v", "type": "quantitative", "scale": {"domain": [-0.48, 0.02], "nice": false, "zero": false},
              "axis": {"orient": "left", "values": [-0.48,-0.47,-0.46,-0.45,-0.44,-0.43,-0.42,-0.41,-0.4,-0.39,-0.38,-0.37,-0.36,-0.35,-0.34,-0.33,-0.32,-0.31,-0.3,-0.29,-0.28,-0.27,-0.26,-0.25,-0.24,-0.23,-0.22,-0.21,-0.2,-0.19,-0.18,-0.17,-0.16,-0.15,-0.14,-0.13,-0.12,-0.11,-0.1,-0.09,-0.08,-0.07,-0.06,-0.05,-0.04,-0.03,-0.02,-0.01,0,0.01,0.02], "labels": false, "domain": false, "grid": false, "title": null, "tickColor": "black", "tickWidth": 4, "tickSize": {"condition": {"test": "abs(round(datum.value*100)) % 10 === 0", "value": -44}, "value": -21}}},
            "yError": {"field": "e"}
          }
        },
        {
          "transform": [{"filter": "datum.p === 'a'"}],
          "mark": {"type": "line", "color": "black", "strokeWidth": 4},
          "encoding": {
            "x": {"field": "t", "type": "quantitative", "scale": {"domain": [1985, 2014], "nice": false, "zero": false}, "axis": null},
            "y": {"field": "v", "type": "quantitative", "scale": {"domain": [-0.48, 0.02], "nice": false, "zero": false},
              "axis": {"orient": "left", "values": [0, -0.1, -0.2, -0.3, -0.4], "format": ".1f", "labelExpr": "datum.value === 0 ? datum.label + '\u2005' : datum.label", "ticks": false, "tickSize": 0, "domain": false, "grid": false, "title": null, "labelPadding": 15, "minExtent": 168, "maxExtent": 168}}
          }
        },
        {
          "data": {"values": [{"g": 1996.35}, {"g": 2008.9}]},
          "mark": {"type": "rule", "color": "#1fb41f", "strokeWidth": 5, "strokeDash": [40, 20, 5, 20, 5, 20, 5, 17]},
          "encoding": {
            "x": {"field": "g", "type": "quantitative", "scale": {"domain": [1985, 2014], "nice": false, "zero": false}, "axis": null}
          }
        },
        {
          "data": {"values": [{"tx": 2013.28, "ty": -0.035, "label": "(a) 2920<ν≤3450μHz"}]},
          "mark": {"type": "text", "align": "right", "baseline": "middle", "font": "Liberation Serif", "fontSize": 46, "color": "black"},
          "encoding": {
            "x": {"field": "tx", "type": "quantitative", "scale": {"domain": [1985, 2014], "nice": false, "zero": false}, "axis": null},
            "y": {"field": "ty", "type": "quantitative", "scale": {"domain": [-0.48, 0.02], "nice": false, "zero": false}, "axis": null},
            "text": {"field": "label"}
          }
        }
      ],
      "resolve": {"axis": {"x": "independent", "y": "independent"}}
    },
    {
      "width": 1611,
      "height": 612,
      "data": {"name": "d"},
      "layer": [
        {
          "transform": [{"filter": "datum.p === 'b'"}],
          "mark": {"type": "line", "color": "#ee3d7b", "strokeWidth": 7, "strokeDash": [32, 16]},
          "encoding": {
            "x": {"field": "t", "type": "quantitative", "scale": {"domain": [1985, 2014], "nice": false, "zero": false},
              "axis": {"orient": "top", "values": [1985,1986,1987,1988,1989,1990,1991,1992,1993,1994,1995,1996,1997,1998,1999,2000,2001,2002,2003,2004,2005,2006,2007,2008,2009,2010,2011,2012,2013,2014], "labels": false, "domain": false, "grid": false, "title": null, "tickColor": "black", "tickWidth": 4, "tickSize": {"condition": {"test": "datum.value % 5 === 0", "value": -45}, "value": -23}}},
            "y": {"field": "m1", "type": "quantitative", "scale": {"domain": [-0.27, 0.02], "nice": false, "zero": false},
              "axis": {"orient": "right", "values": [-0.27,-0.26,-0.25,-0.24,-0.23,-0.22,-0.21,-0.2,-0.19,-0.18,-0.17,-0.16,-0.15,-0.14,-0.13,-0.12,-0.11,-0.1,-0.09,-0.08,-0.07,-0.06,-0.05,-0.04,-0.03,-0.02,-0.01,0,0.01,0.02], "labels": false, "domain": false, "grid": false, "title": null, "tickColor": "black", "tickWidth": 4, "tickSize": {"condition": {"test": "abs(round(datum.value*100)) % 5 === 0", "value": -42}, "value": -20}}}
          }
        },
        {
          "transform": [{"filter": "datum.p === 'b'"}],
          "mark": {"type": "line", "color": "#5a2d9e", "strokeWidth": 7, "strokeDash": [26, 12, 6, 12]},
          "encoding": {
            "x": {"field": "t", "type": "quantitative", "scale": {"domain": [1985, 2014], "nice": false, "zero": false}, "axis": null},
            "y": {"field": "m2", "type": "quantitative", "scale": {"domain": [-0.27, 0.02], "nice": false, "zero": false}, "axis": null}
          }
        },
        {
          "transform": [{"filter": "datum.p === 'b'"}],
          "mark": {"type": "errorbar", "color": "black", "ticks": {"size": 30, "thickness": 5}, "rule": {"strokeWidth": 5}},
          "encoding": {
            "x": {"field": "t", "type": "quantitative", "scale": {"domain": [1985, 2014], "nice": false, "zero": false},
              "axis": {"orient": "bottom", "values": [1985,1986,1987,1988,1989,1990,1991,1992,1993,1994,1995,1996,1997,1998,1999,2000,2001,2002,2003,2004,2005,2006,2007,2008,2009,2010,2011,2012,2013,2014], "labels": false, "domain": false, "grid": false, "title": null, "tickColor": "black", "tickWidth": 4, "tickSize": {"condition": {"test": "datum.value % 5 === 0", "value": -45}, "value": -23}}},
            "y": {"field": "v", "type": "quantitative", "scale": {"domain": [-0.27, 0.02], "nice": false, "zero": false},
              "axis": {"orient": "left", "values": [-0.27,-0.26,-0.25,-0.24,-0.23,-0.22,-0.21,-0.2,-0.19,-0.18,-0.17,-0.16,-0.15,-0.14,-0.13,-0.12,-0.11,-0.1,-0.09,-0.08,-0.07,-0.06,-0.05,-0.04,-0.03,-0.02,-0.01,0,0.01,0.02], "labels": false, "domain": false, "grid": false, "title": null, "tickColor": "black", "tickWidth": 4, "tickSize": {"condition": {"test": "abs(round(datum.value*100)) % 5 === 0", "value": -44}, "value": -21}}},
            "yError": {"field": "e"}
          }
        },
        {
          "transform": [{"filter": "datum.p === 'b'"}],
          "mark": {"type": "line", "color": "black", "strokeWidth": 4},
          "encoding": {
            "x": {"field": "t", "type": "quantitative", "scale": {"domain": [1985, 2014], "nice": false, "zero": false}, "axis": null},
            "y": {"field": "v", "type": "quantitative", "scale": {"domain": [-0.27, 0.02], "nice": false, "zero": false},
              "axis": {"orient": "left", "values": [0, -0.05, -0.1, -0.15, -0.2, -0.25], "format": ".2f", "labelExpr": "datum.value === 0 ? datum.label + '\u2005' : datum.label", "ticks": false, "tickSize": 0, "domain": false, "grid": false, "title": null, "labelPadding": 15, "minExtent": 168, "maxExtent": 168}}
          }
        },
        {
          "data": {"values": [{"g": 1996.35}, {"g": 2008.9}]},
          "mark": {"type": "rule", "color": "#1fb41f", "strokeWidth": 5, "strokeDash": [40, 20, 5, 20, 5, 20, 5, 17]},
          "encoding": {
            "x": {"field": "g", "type": "quantitative", "scale": {"domain": [1985, 2014], "nice": false, "zero": false}, "axis": null}
          }
        },
        {
          "data": {"values": [{"tx": 2013.14, "ty": -0.006, "label": "(b) 2400<ν≤2920μ Hz"}]},
          "mark": {"type": "text", "align": "right", "baseline": "middle", "font": "Liberation Serif", "fontSize": 46, "color": "black"},
          "encoding": {
            "x": {"field": "tx", "type": "quantitative", "scale": {"domain": [1985, 2014], "nice": false, "zero": false}, "axis": null},
            "y": {"field": "ty", "type": "quantitative", "scale": {"domain": [-0.27, 0.02], "nice": false, "zero": false}, "axis": null},
            "text": {"field": "label"}
          }
        }
      ],
      "resolve": {"axis": {"x": "independent", "y": "independent"}}
    },
    {
      "width": 1611,
      "height": 620,
      "data": {"name": "d"},
      "layer": [
        {
          "transform": [{"filter": "datum.p === 'c'"}],
          "mark": {"type": "line", "color": "#ee3d7b", "strokeWidth": 7, "strokeDash": [32, 16]},
          "encoding": {
            "x": {"field": "t", "type": "quantitative", "scale": {"domain": [1985, 2014], "nice": false, "zero": false},
              "axis": {"orient": "top", "values": [1985,1986,1987,1988,1989,1990,1991,1992,1993,1994,1995,1996,1997,1998,1999,2000,2001,2002,2003,2004,2005,2006,2007,2008,2009,2010,2011,2012,2013,2014], "labels": false, "domain": false, "grid": false, "title": null, "tickColor": "black", "tickWidth": 4, "tickSize": {"condition": {"test": "datum.value % 5 === 0", "value": -45}, "value": -23}}},
            "y": {"field": "m1", "type": "quantitative", "scale": {"domain": [-0.222, 0.02], "nice": false, "zero": false},
              "axis": {"orient": "right", "values": [-0.22,-0.21,-0.2,-0.19,-0.18,-0.17,-0.16,-0.15,-0.14,-0.13,-0.12,-0.11,-0.1,-0.09,-0.08,-0.07,-0.06,-0.05,-0.04,-0.03,-0.02,-0.01,0,0.01,0.02], "labels": false, "domain": false, "grid": false, "title": null, "tickColor": "black", "tickWidth": 4, "tickSize": {"condition": {"test": "abs(round(datum.value*100)) % 5 === 0", "value": -42}, "value": -20}}}
          }
        },
        {
          "transform": [{"filter": "datum.p === 'c'"}],
          "mark": {"type": "line", "color": "#5a2d9e", "strokeWidth": 7, "strokeDash": [26, 12, 6, 12]},
          "encoding": {
            "x": {"field": "t", "type": "quantitative", "scale": {"domain": [1985, 2014], "nice": false, "zero": false}, "axis": null},
            "y": {"field": "m2", "type": "quantitative", "scale": {"domain": [-0.222, 0.02], "nice": false, "zero": false}, "axis": null}
          }
        },
        {
          "transform": [{"filter": "datum.p === 'c'"}],
          "mark": {"type": "errorbar", "color": "black", "ticks": {"size": 30, "thickness": 5}, "rule": {"strokeWidth": 5}},
          "encoding": {
            "x": {"field": "t", "type": "quantitative", "scale": {"domain": [1985, 2014], "nice": false, "zero": false},
              "axis": {"orient": "bottom", "values": [1985,1986,1987,1988,1989,1990,1991,1992,1993,1994,1995,1996,1997,1998,1999,2000,2001,2002,2003,2004,2005,2006,2007,2008,2009,2010,2011,2012,2013,2014], "labels": false, "domain": false, "grid": false, "title": null, "tickColor": "black", "tickWidth": 4, "tickSize": {"condition": {"test": "datum.value % 5 === 0", "value": -45}, "value": -23}}},
            "y": {"field": "v", "type": "quantitative", "scale": {"domain": [-0.222, 0.02], "nice": false, "zero": false},
              "axis": {"orient": "left", "values": [-0.22,-0.21,-0.2,-0.19,-0.18,-0.17,-0.16,-0.15,-0.14,-0.13,-0.12,-0.11,-0.1,-0.09,-0.08,-0.07,-0.06,-0.05,-0.04,-0.03,-0.02,-0.01,0,0.01,0.02], "labels": false, "domain": false, "grid": false, "title": null, "tickColor": "black", "tickWidth": 4, "tickSize": {"condition": {"test": "abs(round(datum.value*100)) % 5 === 0", "value": -44}, "value": -21}}},
            "yError": {"field": "e"}
          }
        },
        {
          "transform": [{"filter": "datum.p === 'c'"}],
          "mark": {"type": "line", "color": "black", "strokeWidth": 4},
          "encoding": {
            "x": {"field": "t", "type": "quantitative", "scale": {"domain": [1985, 2014], "nice": false, "zero": false},
              "axis": {"orient": "bottom", "values": [1985, 1990, 1995, 2000, 2005, 2010], "format": "d", "ticks": false, "tickSize": 0, "domain": false, "grid": false, "labelFlush": false, "labelOverlap": false, "labelPadding": 8, "title": "Year", "titleFontSize": 52, "titlePadding": 4}},
            "y": {"field": "v", "type": "quantitative", "scale": {"domain": [-0.222, 0.02], "nice": false, "zero": false},
              "axis": {"orient": "left", "values": [0, -0.05, -0.1, -0.15, -0.2], "format": ".2f", "labelExpr": "datum.value === 0 ? datum.label + '\u2005' : datum.label", "ticks": false, "tickSize": 0, "domain": false, "grid": false, "title": null, "labelPadding": 15, "minExtent": 168, "maxExtent": 168}}
          }
        },
        {
          "data": {"values": [{"g": 1996.35}, {"g": 2008.9}]},
          "mark": {"type": "rule", "color": "#1fb41f", "strokeWidth": 5, "strokeDash": [40, 20, 5, 20, 5, 20, 5, 17]},
          "encoding": {
            "x": {"field": "g", "type": "quantitative", "scale": {"domain": [1985, 2014], "nice": false, "zero": false}, "axis": null}
          }
        },
        {
          "data": {"values": [{"tx": 2013.26, "ty": 0.0, "label": "(c) 1860<ν≤2400μHz"}]},
          "mark": {"type": "text", "align": "right", "baseline": "middle", "font": "Liberation Serif", "fontSize": 46, "color": "black"},
          "encoding": {
            "x": {"field": "tx", "type": "quantitative", "scale": {"domain": [1985, 2014], "nice": false, "zero": false}, "axis": null},
            "y": {"field": "ty", "type": "quantitative", "scale": {"domain": [-0.222, 0.02], "nice": false, "zero": false}, "axis": null},
            "text": {"field": "label"}
          }
        }
      ],
      "resolve": {"axis": {"x": "independent", "y": "independent"}}
    }
  ],
  "config": {
    "view": {"stroke": "black", "strokeWidth": 4},
    "axis": {"labelFont": "Liberation Sans", "labelFontSize": 50, "labelColor": "black", "titleFont": "Liberation Sans", "titleFontSize": 50, "titleFontWeight": "normal", "titleColor": "black", "grid": false, "domain": false},
    "concat": {"spacing": 0}
  }
}
